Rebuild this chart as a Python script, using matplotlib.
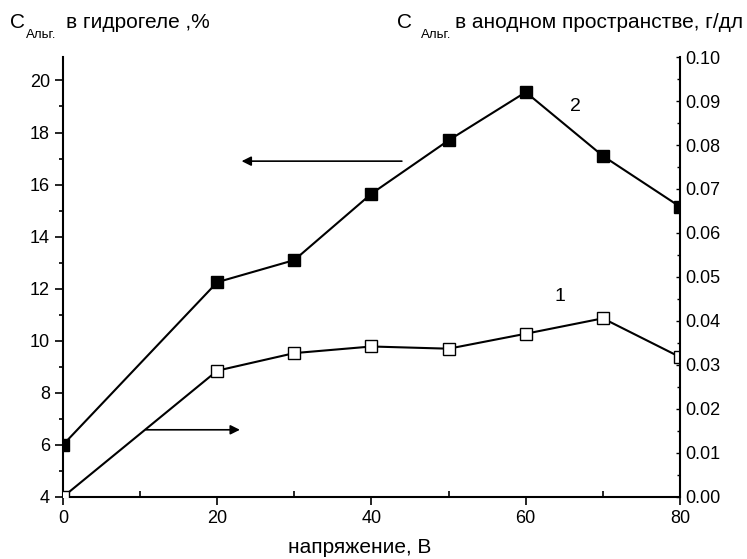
import matplotlib.pyplot as plt
from matplotlib.ticker import MultipleLocator, FormatStrFormatter

plt.rcParams['font.family'] = ['Liberation Sans', 'DejaVu Sans']
plt.rcParams['font.size'] = 13

# напряжение, В
voltage = [0, 20, 30, 40, 50, 60, 70, 80]
# кривая 2: концентрация альгината в гидрогеле, %
gel_conc = [6.0, 12.25, 13.1, 15.65, 17.7, 19.55, 17.1, 15.15]
# кривая 1: концентрация в анодном пространстве, г/дл
anode_conc = [0.0, 0.0287, 0.0327, 0.0342, 0.0337, 0.0371, 0.0406, 0.0318]

W, H = 747, 559
fig = plt.figure(figsize=(W / 100, H / 100), dpi=100)
ax = fig.add_axes([0.0843, 0.111, 0.8260, 0.787])
ax2 = ax.twinx()

ax.plot(voltage, gel_conc, color='black', lw=1.5, marker='s', ms=9,
        mfc='black', mec='black')
ax2.plot(voltage, anode_conc, color='black', lw=1.5, marker='s', ms=9,
         mfc='white', mec='black', mew=1.0)

ax.set_xlim(0, 80)
ax.set_ylim(4, 20.9)
ax2.set_ylim(0, 0.10)

ax.xaxis.set_major_locator(MultipleLocator(20))
ax.xaxis.set_minor_locator(MultipleLocator(10))
ax.yaxis.set_major_locator(MultipleLocator(2))
ax.yaxis.set_minor_locator(MultipleLocator(1))
ax2.yaxis.set_major_locator(MultipleLocator(0.01))
ax2.yaxis.set_minor_locator(MultipleLocator(0.005))
ax2.yaxis.set_major_formatter(FormatStrFormatter('%.2f'))

for a in (ax, ax2):
    a.spines['top'].set_visible(False)
    for s in a.spines.values():
        s.set_linewidth(1.5)
ax.spines['right'].set_visible(False)
ax2.spines['left'].set_visible(False)
ax2.spines['bottom'].set_visible(False)

ax.tick_params(which='major', direction='out', length=6, width=1.2)
ax.tick_params(which='minor', direction='out', length=3, width=1.2)
ax.tick_params(axis='x', which='minor', direction='in', length=4)
ax2.tick_params(which='major', direction='in', length=3, width=1.0)
ax2.tick_params(which='minor', direction='in', length=2, width=1.0)

ax.set_xlabel('напряжение, В', fontsize=15)
ax.xaxis.set_label_coords(0.481, -0.094)

# стрелки, указывающие ось для каждой кривой
ax.annotate('', xy=(22.8, 16.9), xytext=(44.3, 16.9),
            arrowprops=dict(arrowstyle='-|>', color='black', lw=1.2,
                            mutation_scale=14))
ax.annotate('', xy=(23.3, 6.58), xytext=(10.4, 6.58),
            arrowprops=dict(arrowstyle='-|>', color='black', lw=1.2,
                            mutation_scale=14))

ax.text(66.4, 19.0, '2', ha='center', va='center', fontsize=14)
ax.text(64.4, 11.7, '1', ha='center', va='center', fontsize=14)


def px(x, y):
    return x / W, 1 - y / H


# подписи осей: C с нижним индексом "Альг."
def axis_title(x_c, x_sub, x_rest, rest):
    fig.text(*px(x_c, 28), 'C', fontsize=15, va='baseline')
    fig.text(*px(x_sub, 38), 'Альг.', fontsize=9.5, va='baseline')
    fig.text(*px(x_rest, 28), rest, fontsize=15, va='baseline')


axis_title(10, 26, 66, 'в гидрогеле ,%')
axis_title(397, 421, 455, 'в анодном пространстве, г/дл')

fig.savefig('out.png', dpi=100)
